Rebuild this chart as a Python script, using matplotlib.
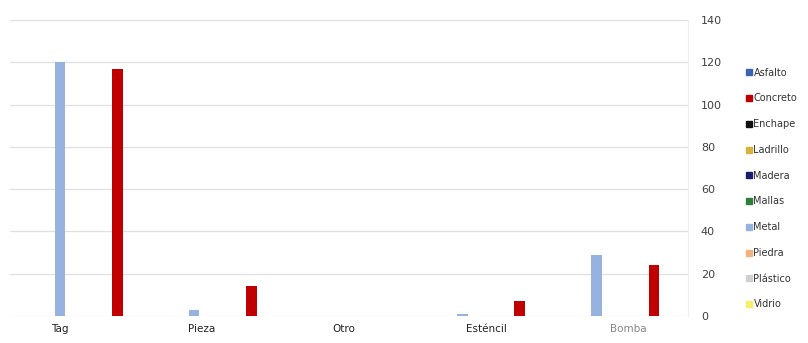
import matplotlib.pyplot as plt
import numpy as np

categories = ['Tag', 'Pieza', 'Otro', 'Esténcil', 'Bomba']
series = ['Asfalto', 'Concreto', 'Enchape', 'Ladrillo', 'Madera',
          'Mallas', 'Metal', 'Piedra', 'Plástico', 'Vidrio']
values = {
    'Asfalto':  [0, 0, 0, 0, 0],
    'Concreto': [117, 14, 0, 7, 24],
    'Enchape':  [0, 0, 0, 0, 0],
    'Ladrillo': [0, 0, 0, 0, 0],
    'Madera':   [0, 0, 0, 0, 0],
    'Mallas':   [0, 0, 0, 0, 0],
    'Metal':    [120, 3, 0, 1, 29],
    'Piedra':   [0, 0, 0, 0, 0],
    'Plástico': [0, 0, 0, 0, 0],
    'Vidrio':   [0, 0, 0, 0, 0],
}
colors = {
    'Asfalto': '#3A66B0', 'Concreto': '#C00000', 'Enchape': '#111111',
    'Ladrillo': '#D8B23C', 'Madera': '#1C1C6E', 'Mallas': '#2E7D3A',
    'Metal': '#95B3DE', 'Piedra': '#F2B27E', 'Plástico': '#D0D0D0',
    'Vidrio': '#F5F06A',
}
# slot order of bars inside each group
bar_order = ['Metal', 'Asfalto', 'Enchape', 'Ladrillo', 'Madera',
             'Concreto', 'Mallas', 'Piedra', 'Plástico', 'Vidrio']

fig = plt.figure(figsize=(8.08, 3.43), dpi=100)
ax = fig.add_axes([0.012, 0.079, 0.84, 0.862])

x = np.arange(len(categories))
slot = 0.0857
width = 0.08
for k, name in enumerate(bar_order):
    ax.bar(x + (k - 4.5) * slot, values[name], width=width,
           color=colors[name], zorder=3)

ax.set_xlim(-0.76, 4.30)
ax.set_ylim(0, 140)
ax.set_yticks(range(0, 141, 20))
ax.yaxis.tick_right()
ax.tick_params(axis='y', length=0, pad=9, labelsize=8, labelcolor='#404040')
ax.grid(axis='y', color='#e0e0e0', linewidth=0.9, zorder=0)

ax.set_xticks(np.arange(5) * 1.06 - 0.386)
ax.set_xticklabels(categories, fontsize=7.5)
ax.tick_params(axis='x', length=0, pad=6)
for lbl, c in zip(ax.get_xticklabels(), ['#222222'] * 4 + ['#888888']):
    lbl.set_color(c)

for s in ['top', 'left', 'bottom']:
    ax.spines[s].set_visible(False)
ax.spines['right'].set_color('#eeeeee')

handles = [plt.Line2D([], [], marker='s', linestyle='', markersize=4,
                      color=colors[n]) for n in series]
fig.legend(handles, series, loc='upper left', bbox_to_anchor=(0.912, 0.828),
           frameon=False, fontsize=7, handlelength=0.6, handletextpad=0.2,
           labelspacing=1.62, labelcolor='#333333')

fig.savefig('out.png', dpi=100)
